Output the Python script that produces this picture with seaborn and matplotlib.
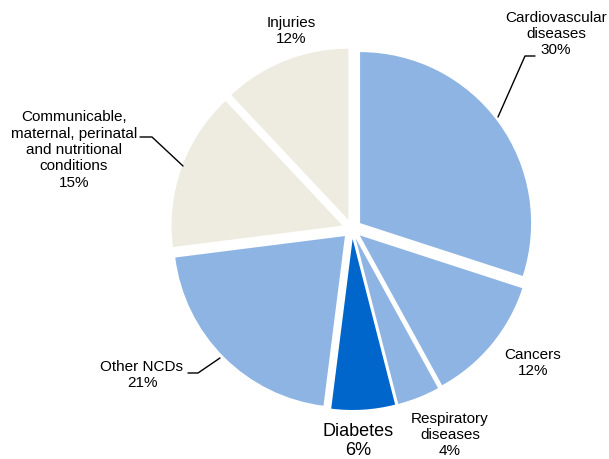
import matplotlib
matplotlib.use("Agg")
import matplotlib.pyplot as plt
import seaborn as sns

# ── Data ──────────────────────────────────────────────────────────────────────
causes = ["Cardiovascular\ndiseases", "Cancers", "Respiratory\ndiseases",
          "Diabetes", "Other NCDs",
          "Communicable,\nmaternal, perinatal\nand nutritional\nconditions",
          "Injuries"]
shares = [30, 12, 4, 6, 21, 15, 12]
colors = ["#8EB4E3", "#8EB4E3", "#8EB4E3", "#0066CC", "#8EB4E3",
          "#EEECE1", "#EEECE1"]

# label anchor (px, from top-left) and leader lines
label_pos = [(556, 34), (533, 363), (450, 435), (358, 441),
             (142, 375), (74, 150), (291, 31)]
leaders = {
    0: [(535, 56), (525, 56), (498, 117)],
    4: [(188, 373), (198, 373), (220, 358)],
    5: [(140, 137), (152, 137), (183, 166)],
}

W, H = 609, 459
CX, CY, R = 352, 229, 171

sns.set_theme(style="white")
plt.rcParams["font.family"] = ["Liberation Sans", "DejaVu Sans"]

fig = plt.figure(figsize=(W / 100, H / 100), dpi=100)
ax = fig.add_axes([0, 0, 1, 1])
ax.axis("off")

# explode in matplotlib is an absolute offset in data units (px here)
ax.pie(shares, colors=colors, startangle=90, counterclock=False,
       center=(CX, H - CY), radius=R, explode=[10] * len(shares),
       wedgeprops=dict(linewidth=0))
ax.set_xlim(0, W)
ax.set_ylim(0, H)
ax.set_aspect("equal")

for i, (name, val) in enumerate(zip(causes, shares)):
    x, y = label_pos[i]
    big = name == "Diabetes"
    ax.text(x, H - y, f"{name}\n{val}%", ha="center", va="center",
            fontsize=13 if big else 11, color="black",
            linespacing=1.15 if big else 1.22, multialignment="center")

for i, pts in leaders.items():
    xs = [p[0] for p in pts]
    ys = [H - p[1] for p in pts]
    ax.plot(xs, ys, color="black", lw=1)

fig.savefig("out.png", dpi=100, facecolor="white")
